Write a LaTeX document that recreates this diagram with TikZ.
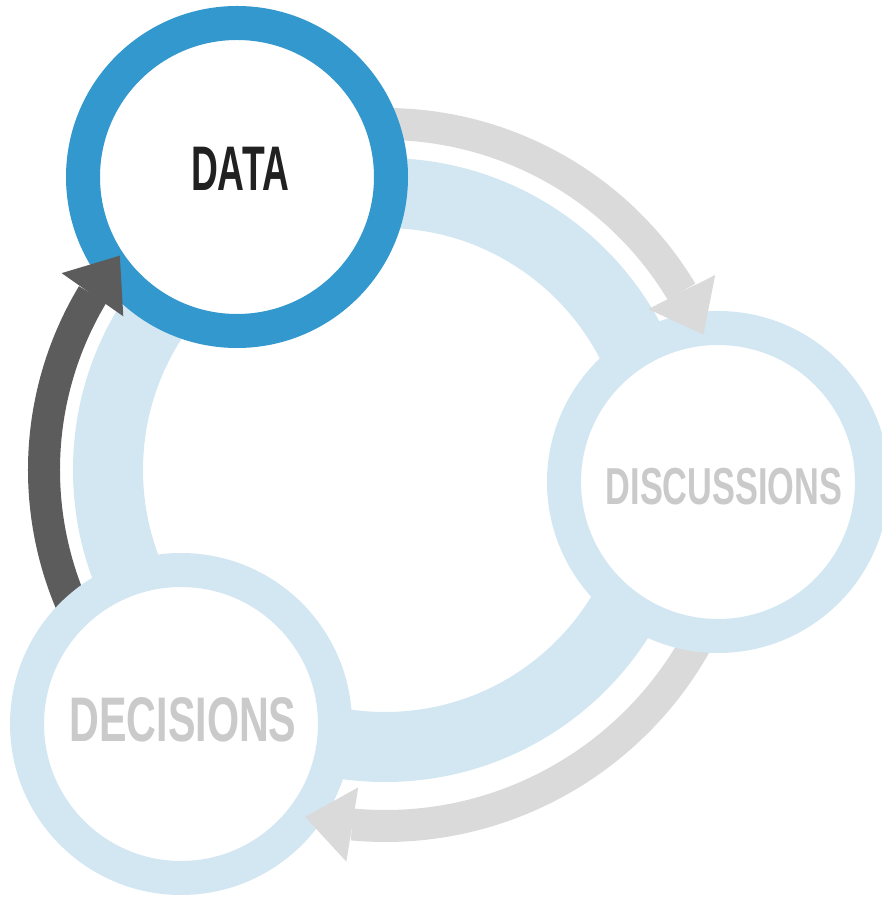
\documentclass[tikz,border=0pt]{standalone}
\usepackage{fontspec}
\setmainfont{Liberation Sans}
\usetikzlibrary{arrows.meta,calc}
\definecolor{datablue}{RGB}{50,152,206}
\definecolor{paleblue}{RGB}{210,231,242}
\definecolor{arrowgray}{RGB}{218,218,218}
\definecolor{arrowdark}{RGB}{92,92,92}
\definecolor{textgray}{RGB}{202,202,202}
\begin{document}
\begin{tikzpicture}[x=1pt, y=1pt,
  main/.style = {draw=paleblue, circle, fill=white, line width=34pt, minimum size=308pt, inner sep=0pt},
  word/.style = {inner sep=0pt, text=textgray, font=\bfseries},
  shaft/.style = {draw=arrowgray, line width=32pt},
  flow/.style = {shaft, -{Triangle[width=72pt, length=48pt]}}]
\useasboundingbox (0,0) rectangle (882,897);
\coordinate (hub) at (385,427);

% the cycle behind the stages
\draw[paleblue, line width=70pt] (hub) circle[radius=277pt];

% arrow shafts, tails hidden under the stages
\path (hub) ++(100:346pt) coordinate (s1);
\path (hub) ++(-10:356pt) coordinate (s2);
\path (hub) ++(225:341pt) coordinate (s3);
\draw[shaft] (s1) arc[start angle=100, end angle=31, radius=346pt] coordinate (b1);
\draw[shaft] (s2) arc[start angle=-10, end angle=-95.3, radius=356pt] coordinate (b2);
\draw[shaft, draw=arrowdark] (s3) arc[start angle=225, end angle=149, radius=341pt] coordinate (b3);

% stages
\node[main, draw=datablue] (data) at (237,720) {};
\node[main] (disc) at (718,415) {};
\node[main] (dec) at (181,173) {};
\node[word, text=black!87] (datatext) at ($(data)+(3,8)$) {\scalebox{0.59}[1]{\fontsize{63pt}{63pt}\selectfont DATA}};
\node[word] (disctext) at ($(disc)+(6,-5)$) {\scalebox{0.66}[1]{\fontsize{52pt}{52pt}\selectfont DISCUSSIONS}};
\node[word] (dectext) at ($(dec)+(2,4)$) {\scalebox{0.655}[1]{\fontsize{63pt}{63pt}\selectfont DECISIONS}};

% heads, on top of the stages
\path (hub) ++(23:346pt) coordinate (t1);
\path (hub) ++(-103:356pt) coordinate (t2);
\path (hub) ++(141:341pt) coordinate (t3);
\draw[flow] (b1) -- (t1);
\draw[flow] (b2) -- (t2);
\draw[flow, draw=arrowdark] (b3) -- (t3);

\end{tikzpicture}
\end{document}
